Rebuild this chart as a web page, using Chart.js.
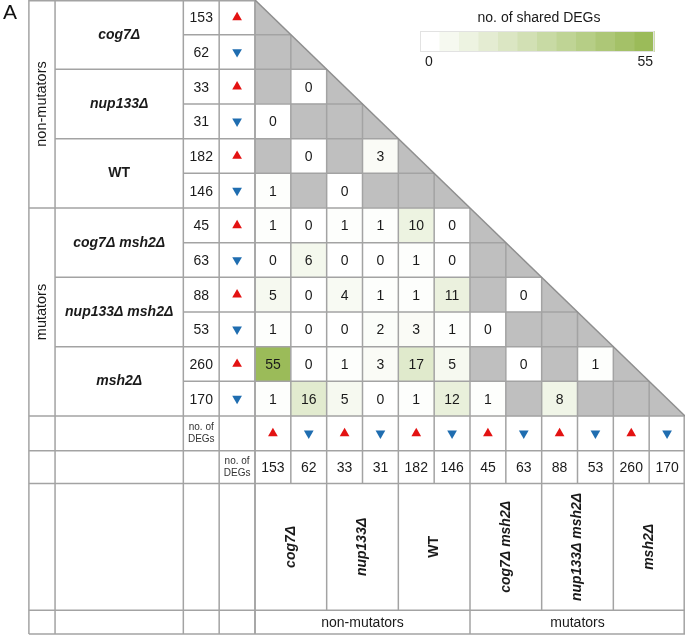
<!DOCTYPE html>
<html>
<head>
<meta charset="utf-8">
<style>
  html, body { margin: 0; padding: 0; background: #fff; }
  canvas { display: block; }
</style>
</head>
<body>
<canvas id="degChart" width="685" height="635"></canvas>
<script src="https://cdn.jsdelivr.net/npm/chart.js"></script>
<script>
  // strains, two rows each (up / down regulated DEGs)
  const strains = ['cog7Δ', 'nup133Δ', 'WT', 'cog7Δ msh2Δ', 'nup133Δ msh2Δ', 'msh2Δ'];
  const groups = ['non-mutators', 'mutators'];
  const directions = ['up', 'down', 'up', 'down', 'up', 'down', 'up', 'down', 'up', 'down', 'up', 'down'];
  const degCounts = [153, 62, 33, 31, 182, 146, 45, 63, 88, 53, 260, 170];

  // lower triangle, row i holds columns 0..i-1; null = not compared (gray)
  const shared = [
    [],
    [null],
    [null, 0],
    [0, null, null],
    [null, 0, null, 3],
    [1, null, 0, null, null],
    [1, 0, 1, 1, 10, 0],
    [0, 6, 0, 0, 1, 0, null],
    [5, 0, 4, 1, 1, 11, null, 0],
    [1, 0, 0, 2, 3, 1, 0, null, null],
    [55, 0, 1, 3, 17, 5, null, 0, null, 1],
    [1, 16, 5, 0, 1, 12, 1, null, 8, null, null]
  ];
  const legendTicks = [0, 55];
  const legendSteps = 12;

  const N = degCounts.length;
  const GRAY = '#bfbfbf';
  const LINE = '#a3a3a3';
  const UP = '#e31212';
  const DOWN = '#1f6db0';
  const FONT = "'Liberation Sans', Arial, sans-serif";

  // table layout in scale units (1 unit = one heat-map cell)
  const X_MIN = -255 / (430 / 12);
  const Y_MAX = 635 / (416 / 12);
  const colEdge = { group: -6.31, name: -5.58, count: -2, tri: -1 };
  const rowEdge = { tri: 13, num: 13.95, name: 17.6, end: 18.29 };

  function heat(v) {
    const t = Math.max(0, Math.min(1, v / legendTicks[1]));
    const r = Math.round(255 + (155 - 255) * t);
    const g = Math.round(255 + (187 - 255) * t);
    const b = Math.round(255 + (89 - 255) * t);
    return `rgb(${r},${g},${b})`;
  }

  const cells = [];
  shared.forEach((row, i) => {
    row.forEach((v, j) => cells.push({ x: j + 0.5, y: [i, i + 1], v: v }));
  });

  const arrows = [];
  directions.forEach((d, i) => arrows.push({ x: colEdge.tri + 0.5, y: i + 0.5, dir: d }));
  directions.forEach((d, j) => arrows.push({ x: j + 0.5, y: 12.5, dir: d }));

  const tablePlugin = {
    id: 'degTable',
    beforeDatasetsDraw(chart) {
      const ctx = chart.ctx;
      const px = v => chart.scales.x.getPixelForValue(v);
      const py = v => chart.scales.y.getPixelForValue(v);
      ctx.save();
      ctx.fillStyle = GRAY;
      for (let i = 0; i < N; i++) {
        ctx.beginPath();
        ctx.moveTo(px(i), py(i));
        ctx.lineTo(px(i), py(i + 1));
        ctx.lineTo(px(i + 1), py(i + 1));
        ctx.closePath();
        ctx.fill();
      }
      ctx.restore();
    },
    afterDatasetsDraw(chart) {
      const ctx = chart.ctx;
      const px = v => chart.scales.x.getPixelForValue(v);
      const py = v => chart.scales.y.getPixelForValue(v);
      ctx.save();
      ctx.strokeStyle = LINE;
      ctx.lineWidth = 1.5;
      const seg = (x0, y0, x1, y1) => {
        ctx.beginPath();
        ctx.moveTo(x0, y0);
        ctx.lineTo(x1, y1);
        ctx.stroke();
      };
      const hline = (y, a, b, dy = 0) => seg(px(a), py(y) + dy, px(b), py(y) + dy);
      const vline = (x, a, b, dx = 0) => seg(px(x) + dx, py(a), px(x) + dx, py(b));

      // left part of the table
      [colEdge.group, colEdge.name, colEdge.count, colEdge.tri, 0].forEach(x => vline(x, 0, rowEdge.end));
      hline(0, colEdge.group, 0, 0.8);
      for (let k = 1; k <= 12; k++) {
        const start = k % 6 === 0 ? colEdge.group : (k % 2 === 0 ? colEdge.name : colEdge.count);
        hline(k, start, k);
      }
      [rowEdge.tri, rowEdge.num, rowEdge.name].forEach(y => hline(y, colEdge.group, 12));
      hline(rowEdge.end, colEdge.group, 12);

      // heat-map grid
      for (let k = 0; k < N; k++) vline(k, k, 12);
      for (let k = 0; k <= N; k++) vline(k, 12, rowEdge.num, k === N ? -0.8 : 0);
      for (let k = 0; k <= N; k += 2) vline(k, rowEdge.num, rowEdge.name, k === N ? -0.8 : 0);
      [0, 6, 12].forEach(k => vline(k, rowEdge.name, rowEdge.end, k === 12 ? -0.8 : 0));
      ctx.strokeStyle = '#8f8f8f';
      seg(px(0), py(0), px(12), py(12));

      const text = (str, x, y, font, color, rot) => {
        ctx.save();
        ctx.translate(x, y);
        if (rot) ctx.rotate(rot);
        ctx.font = font;
        ctx.fillStyle = color || '#1a1a1a';
        ctx.textAlign = 'center';
        ctx.textBaseline = 'middle';
        ctx.fillText(str, 0, 0);
        ctx.restore();
      };

      // cell values
      const meta = chart.getDatasetMeta(0);
      meta.data.forEach((el, k) => {
        const v = cells[k].v;
        if (v === null) return;
        const c = el.getCenterPoint();
        text(String(v), c.x, c.y + 1, `14px ${FONT}`, '#1a1a1a');
      });

      // row headers
      const nameFont = s => (s === 'WT' ? `bold 14px ${FONT}` : `italic bold 14px ${FONT}`);
      const gx = (colEdge.group + colEdge.name) / 2;
      groups.forEach((g, gi) => text(g, px(gx), py(gi * 6 + 3), `14.5px ${FONT}`, '#1a1a1a', -Math.PI / 2));
      strains.forEach((s, si) => text(s, px((colEdge.name + colEdge.count) / 2), py(si * 2 + 1), nameFont(s)));
      degCounts.forEach((n, i) => text(String(n), px((colEdge.count + colEdge.tri) / 2), py(i + 0.5) + 1, `14px ${FONT}`));

      // column headers
      degCounts.forEach((n, j) => text(String(n), px(j + 0.5), py((rowEdge.tri + rowEdge.num) / 2) + 1, `14px ${FONT}`));
      const nameY = py((rowEdge.num + rowEdge.name) / 2);
      strains.forEach((s, si) => text(s, px(si * 2 + 1), nameY, nameFont(s), '#1a1a1a', -Math.PI / 2));
      groups.forEach((g, gi) => text(g, px(gi * 6 + 3), py((rowEdge.name + rowEdge.end) / 2) + 1, `14px ${FONT}`));
      const smallFont = `10px ${FONT}`;
      const cxCount = px((colEdge.count + colEdge.tri) / 2);
      const cxTri = px((colEdge.tri + 0) / 2);
      text('no. of', cxCount, py(12.5) - 6, smallFont, '#333');
      text('DEGs', cxCount, py(12.5) + 6, smallFont, '#333');
      const numMid = py((rowEdge.tri + rowEdge.num) / 2);
      text('no. of', cxTri, numMid - 6, smallFont, '#333');
      text('DEGs', cxTri, numMid + 6, smallFont, '#333');

      // colour key
      const lx0 = 420, lx1 = 654, ly0 = 31, ly1 = 52;
      const sw = (lx1 - lx0) / legendSteps;
      for (let k = 0; k < legendSteps; k++) {
        ctx.fillStyle = heat(legendTicks[0] + (legendTicks[1] - legendTicks[0]) * k / (legendSteps - 1));
        ctx.fillRect(lx0 + k * sw, ly0, sw + 0.5, ly1 - ly0);
      }
      ctx.strokeStyle = '#e2e2e2';
      ctx.lineWidth = 1;
      ctx.strokeRect(lx0 + 0.5, ly0 + 0.5, lx1 - lx0 - 1, ly1 - ly0 - 1);
      text('no. of shared DEGs', (lx0 + lx1) / 2 + 2, 18, `14px ${FONT}`);
      text(String(legendTicks[0]), lx0 + 9, 62, `14px ${FONT}`);
      ctx.font = `14px ${FONT}`;
      ctx.fillStyle = '#1a1a1a';
      ctx.textAlign = 'right';
      ctx.textBaseline = 'middle';
      ctx.fillText(String(legendTicks[1]), lx1 - 1, 62);

      // panel letter
      ctx.textAlign = 'left';
      ctx.textBaseline = 'alphabetic';
      ctx.font = `21px ${FONT}`;
      ctx.fillStyle = '#111';
      ctx.fillText('A', 3, 19);
      ctx.restore();
    }
  };

  new Chart(document.getElementById('degChart'), {
    type: 'bar',
    data: {
      datasets: [
        {
          type: 'bar',
          data: cells,
          backgroundColor: c => (c.raw && c.raw.v === null ? GRAY : heat(c.raw ? c.raw.v : 0)),
          borderWidth: 0,
          barPercentage: 1,
          categoryPercentage: 1
        },
        {
          type: 'scatter',
          data: arrows,
          pointStyle: 'triangle',
          pointRadius: 5.6,
          rotation: c => (c.raw && c.raw.dir === 'down' ? 180 : 0),
          backgroundColor: c => (c.raw && c.raw.dir === 'down' ? DOWN : UP),
          borderWidth: 0
        }
      ]
    },
    options: {
      responsive: false,
      animation: false,
      events: [],
      layout: { padding: 0, autoPadding: false },
      plugins: { legend: { display: false }, tooltip: { enabled: false } },
      scales: {
        x: {
          type: 'linear', min: X_MIN, max: 12, offset: false, display: false,
          ticks: { stepSize: 1, includeBounds: false }, grid: { offset: false }
        },
        y: { type: 'linear', reverse: true, min: 0, max: Y_MAX, display: false, beginAtZero: false }
      }
    },
    plugins: [tablePlugin]
  });
</script>
</body>
</html>
